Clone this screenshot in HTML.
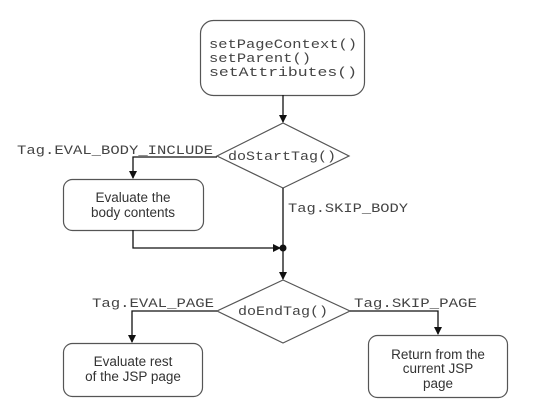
<!DOCTYPE html>
<html><head><meta charset="utf-8"><style>
html,body{margin:0;padding:0;background:#fff;width:558px;height:420px;overflow:hidden}
svg text.m{font-family:"Liberation Mono",monospace;font-size:12.5px;fill:#444}
svg text.s{font-family:"Liberation Sans",sans-serif;font-size:13.5px;fill:#333;text-anchor:middle}
</style></head><body>
<svg width="558" height="420" viewBox="0 0 558 420" xmlns="http://www.w3.org/2000/svg">
<defs><marker id="a" markerWidth="8" markerHeight="8" refX="7" refY="4" orient="auto" markerUnits="userSpaceOnUse"><path d="M0,0 L8,4 L0,8 z" fill="#111"/></marker></defs>
<g stroke="#555" stroke-width="1.2" fill="none">
<rect x="200.5" y="20.5" width="164" height="75" rx="13"/>
<polygon points="283,123 349,156 283,188 217,156"/>
<rect x="63.5" y="179.5" width="140" height="51" rx="9"/>
<polygon points="283,280 350,311 283,343 217,311"/>
<rect x="63.5" y="343.5" width="139" height="53" rx="9"/>
<rect x="368.5" y="335.5" width="139" height="62" rx="9"/>
</g>
<g stroke="#111" stroke-width="1.3" fill="none">
<line x1="283" y1="95" x2="283" y2="122" marker-end="url(#a)"/>
<polyline points="217,157 133,157 133,178" marker-end="url(#a)"/>
<polyline points="133,230 133,248 280,248" marker-end="url(#a)"/>
<line x1="283" y1="188" x2="283" y2="248"/>
<line x1="283" y1="248" x2="283" y2="279" marker-end="url(#a)"/>
<polyline points="217,311 132,311 132,342" marker-end="url(#a)"/>
<polyline points="350,311 438,311 438,334" marker-end="url(#a)"/>
</g>
<circle cx="283" cy="248" r="3.5" fill="#111"/>
<text class="m" x="209" y="48" textLength="148" lengthAdjust="spacingAndGlyphs">setPageContext()</text>
<text class="m" x="209" y="62" textLength="102" lengthAdjust="spacingAndGlyphs">setParent()</text>
<text class="m" x="209" y="76" textLength="148" lengthAdjust="spacingAndGlyphs">setAttributes()</text>
<text class="m" x="228" y="160" textLength="108" lengthAdjust="spacingAndGlyphs">doStartTag()</text>
<text class="m" x="17" y="154" textLength="196" lengthAdjust="spacingAndGlyphs">Tag.EVAL_BODY_INCLUDE</text>
<text class="m" x="288" y="212" textLength="120" lengthAdjust="spacingAndGlyphs">Tag.SKIP_BODY</text>
<text class="m" x="238" y="315" textLength="90" lengthAdjust="spacingAndGlyphs">doEndTag()</text>
<text class="m" x="92" y="307" textLength="122" lengthAdjust="spacingAndGlyphs">Tag.EVAL_PAGE</text>
<text class="m" x="354" y="307" textLength="123" lengthAdjust="spacingAndGlyphs">Tag.SKIP_PAGE</text>
<text class="s" x="133" y="202">Evaluate the</text>
<text class="s" x="133" y="217">body contents</text>
<text class="s" x="133" y="366">Evaluate rest</text>
<text class="s" x="133" y="381">of the JSP page</text>
<text class="s" x="438" y="359">Return from the</text>
<text class="s" x="438" y="373">current JSP</text>
<text class="s" x="438" y="388">page</text>
</svg>
</body></html>
